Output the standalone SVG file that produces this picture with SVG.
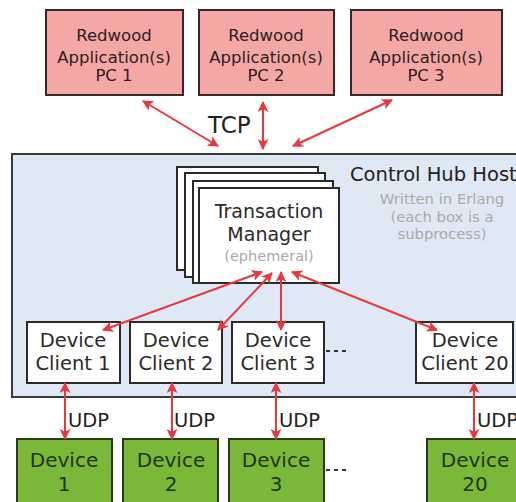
<svg xmlns="http://www.w3.org/2000/svg" width="516" height="502" viewBox="0 0 516 502">
<style>
text{font-family:"DejaVu Sans",Verdana,sans-serif;text-anchor:middle}
.pc{fill:#f4a8a6;stroke:#3a2626;stroke-width:2}
.pt{font-size:16.5px;fill:#2e2020}
.wb{fill:#ffffff;stroke:#2a2a2a;stroke-width:2}
.ct{font-size:19.5px;fill:#2a2a2a}
.dv{fill:#7bb83a;stroke:#2a3a1a;stroke-width:2}
.dt{font-size:20px;fill:#1e3410}
.gr{fill:#a9a9a9;font-size:14.8px}
.ar{stroke:#e8383d;stroke-width:2;fill:none;marker-start:url(#ah);marker-end:url(#ah)}
.lb{font-size:19.5px;fill:#222;text-anchor:start}
.dots{stroke:#333;stroke-width:2;stroke-dasharray:4,4}
</style>
<defs>
<marker id="ah" viewBox="0 0 10 10" refX="9" refY="5" markerWidth="5.5" markerHeight="5.5" orient="auto-start-reverse" markerUnits="strokeWidth">
<path d="M0,0 L10,5 L0,10 L2.5,5 z" fill="#e8383d"/>
</marker>
</defs>
<rect width="516" height="502" fill="#ffffff"/>

<g id="host">
<rect x="12" y="154" width="510" height="243" fill="#dfe9f5" stroke="#3a3a3a" stroke-width="2"/>
<text x="350" y="181" style="font-size:19.5px;fill:#222;text-anchor:start">Control Hub Host</text>
<text x="442" y="204" class="gr">Written in Erlang</text>
<text x="442" y="222" class="gr">(each box is a</text>
<text x="442" y="239" class="gr">subprocess)</text>
</g>

<g id="pc1"><rect class="pc" x="46" y="10" width="137" height="85"/>
<text class="pt" x="114" y="41">Redwood</text><text class="pt" x="114" y="63">Application(s)</text><text class="pt" x="114" y="81">PC 1</text></g>
<g id="pc2"><rect class="pc" x="199" y="10" width="135" height="85"/>
<text class="pt" x="266" y="41">Redwood</text><text class="pt" x="266" y="63">Application(s)</text><text class="pt" x="266" y="81">PC 2</text></g>
<g id="pc3"><rect class="pc" x="351" y="10" width="151" height="85"/>
<text class="pt" x="426" y="41">Redwood</text><text class="pt" x="426" y="63">Application(s)</text><text class="pt" x="426" y="81">PC 3</text></g>

<g id="tm">
<rect class="wb" x="177" y="167" width="141" height="103"/>
<rect class="wb" x="185" y="173" width="140" height="104"/>
<rect class="wb" x="193" y="181" width="140" height="102"/>
<rect class="wb" x="199" y="188" width="140" height="95"/>
<text x="269" y="218" style="font-size:19px;fill:#2a2a2a">Transaction</text>
<text x="269" y="241" style="font-size:19px;fill:#2a2a2a">Manager</text>
<text x="269" y="261" class="gr" style="font-size:14.5px">(ephemeral)</text>
</g>

<g id="dc1"><rect class="wb" x="27" y="322" width="93" height="61"/><text class="ct" x="73" y="347">Device</text><text class="ct" x="73" y="370">Client 1</text></g>
<g id="dc2"><rect class="wb" x="130" y="322" width="92" height="61"/><text class="ct" x="176" y="347">Device</text><text class="ct" x="176" y="370">Client 2</text></g>
<g id="dc3"><rect class="wb" x="232" y="322" width="92" height="61"/><text class="ct" x="278" y="347">Device</text><text class="ct" x="278" y="370">Client 3</text></g>
<g id="dc20"><rect class="wb" x="416" y="322" width="97" height="61"/><text class="ct" x="465" y="347">Device</text><text class="ct" x="465" y="370">Client 20</text></g>

<g id="d1"><rect class="dv" x="17" y="439" width="95" height="70"/><text class="dt" x="64" y="467">Device</text><text class="dt" x="64" y="491">1</text></g>
<g id="d2"><rect class="dv" x="123" y="439" width="95" height="70"/><text class="dt" x="171" y="467">Device</text><text class="dt" x="171" y="491">2</text></g>
<g id="d3"><rect class="dv" x="229" y="439" width="95" height="70"/><text class="dt" x="276" y="467">Device</text><text class="dt" x="276" y="491">3</text></g>
<g id="d20"><rect class="dv" x="427" y="439" width="100" height="70"/><text class="dt" x="475" y="467">Device</text><text class="dt" x="475" y="491">20</text></g>

<g id="connectors">
<line class="ar" x1="143" y1="101" x2="218" y2="146"/>
<line class="ar" x1="263" y1="102" x2="263" y2="149"/>
<line class="ar" x1="392" y1="100" x2="293" y2="146"/>
<line class="ar" x1="103" y1="330" x2="262" y2="272"/>
<line class="ar" x1="218" y1="330" x2="272" y2="273"/>
<line class="ar" x1="281" y1="272" x2="281" y2="330"/>
<line class="ar" x1="292" y1="272" x2="437" y2="330"/>
<line class="ar" x1="65" y1="383" x2="65" y2="439"/>
<line class="ar" x1="172" y1="383" x2="172" y2="439"/>
<line class="ar" x1="276" y1="383" x2="276" y2="439"/>
<line class="ar" x1="474" y1="383" x2="474" y2="439"/>
<line class="dots" x1="326" y1="351" x2="348" y2="351"/>
<line class="dots" x1="326" y1="470" x2="348" y2="470"/>
<text x="208" y="133" style="font-size:23px;fill:#222;text-anchor:start">TCP</text>
<text class="lb" x="68" y="427">UDP</text>
<text class="lb" x="174" y="427">UDP</text>
<text class="lb" x="279" y="427">UDP</text>
<text class="lb" x="477" y="427">UDP</text>
</g>
</svg>
